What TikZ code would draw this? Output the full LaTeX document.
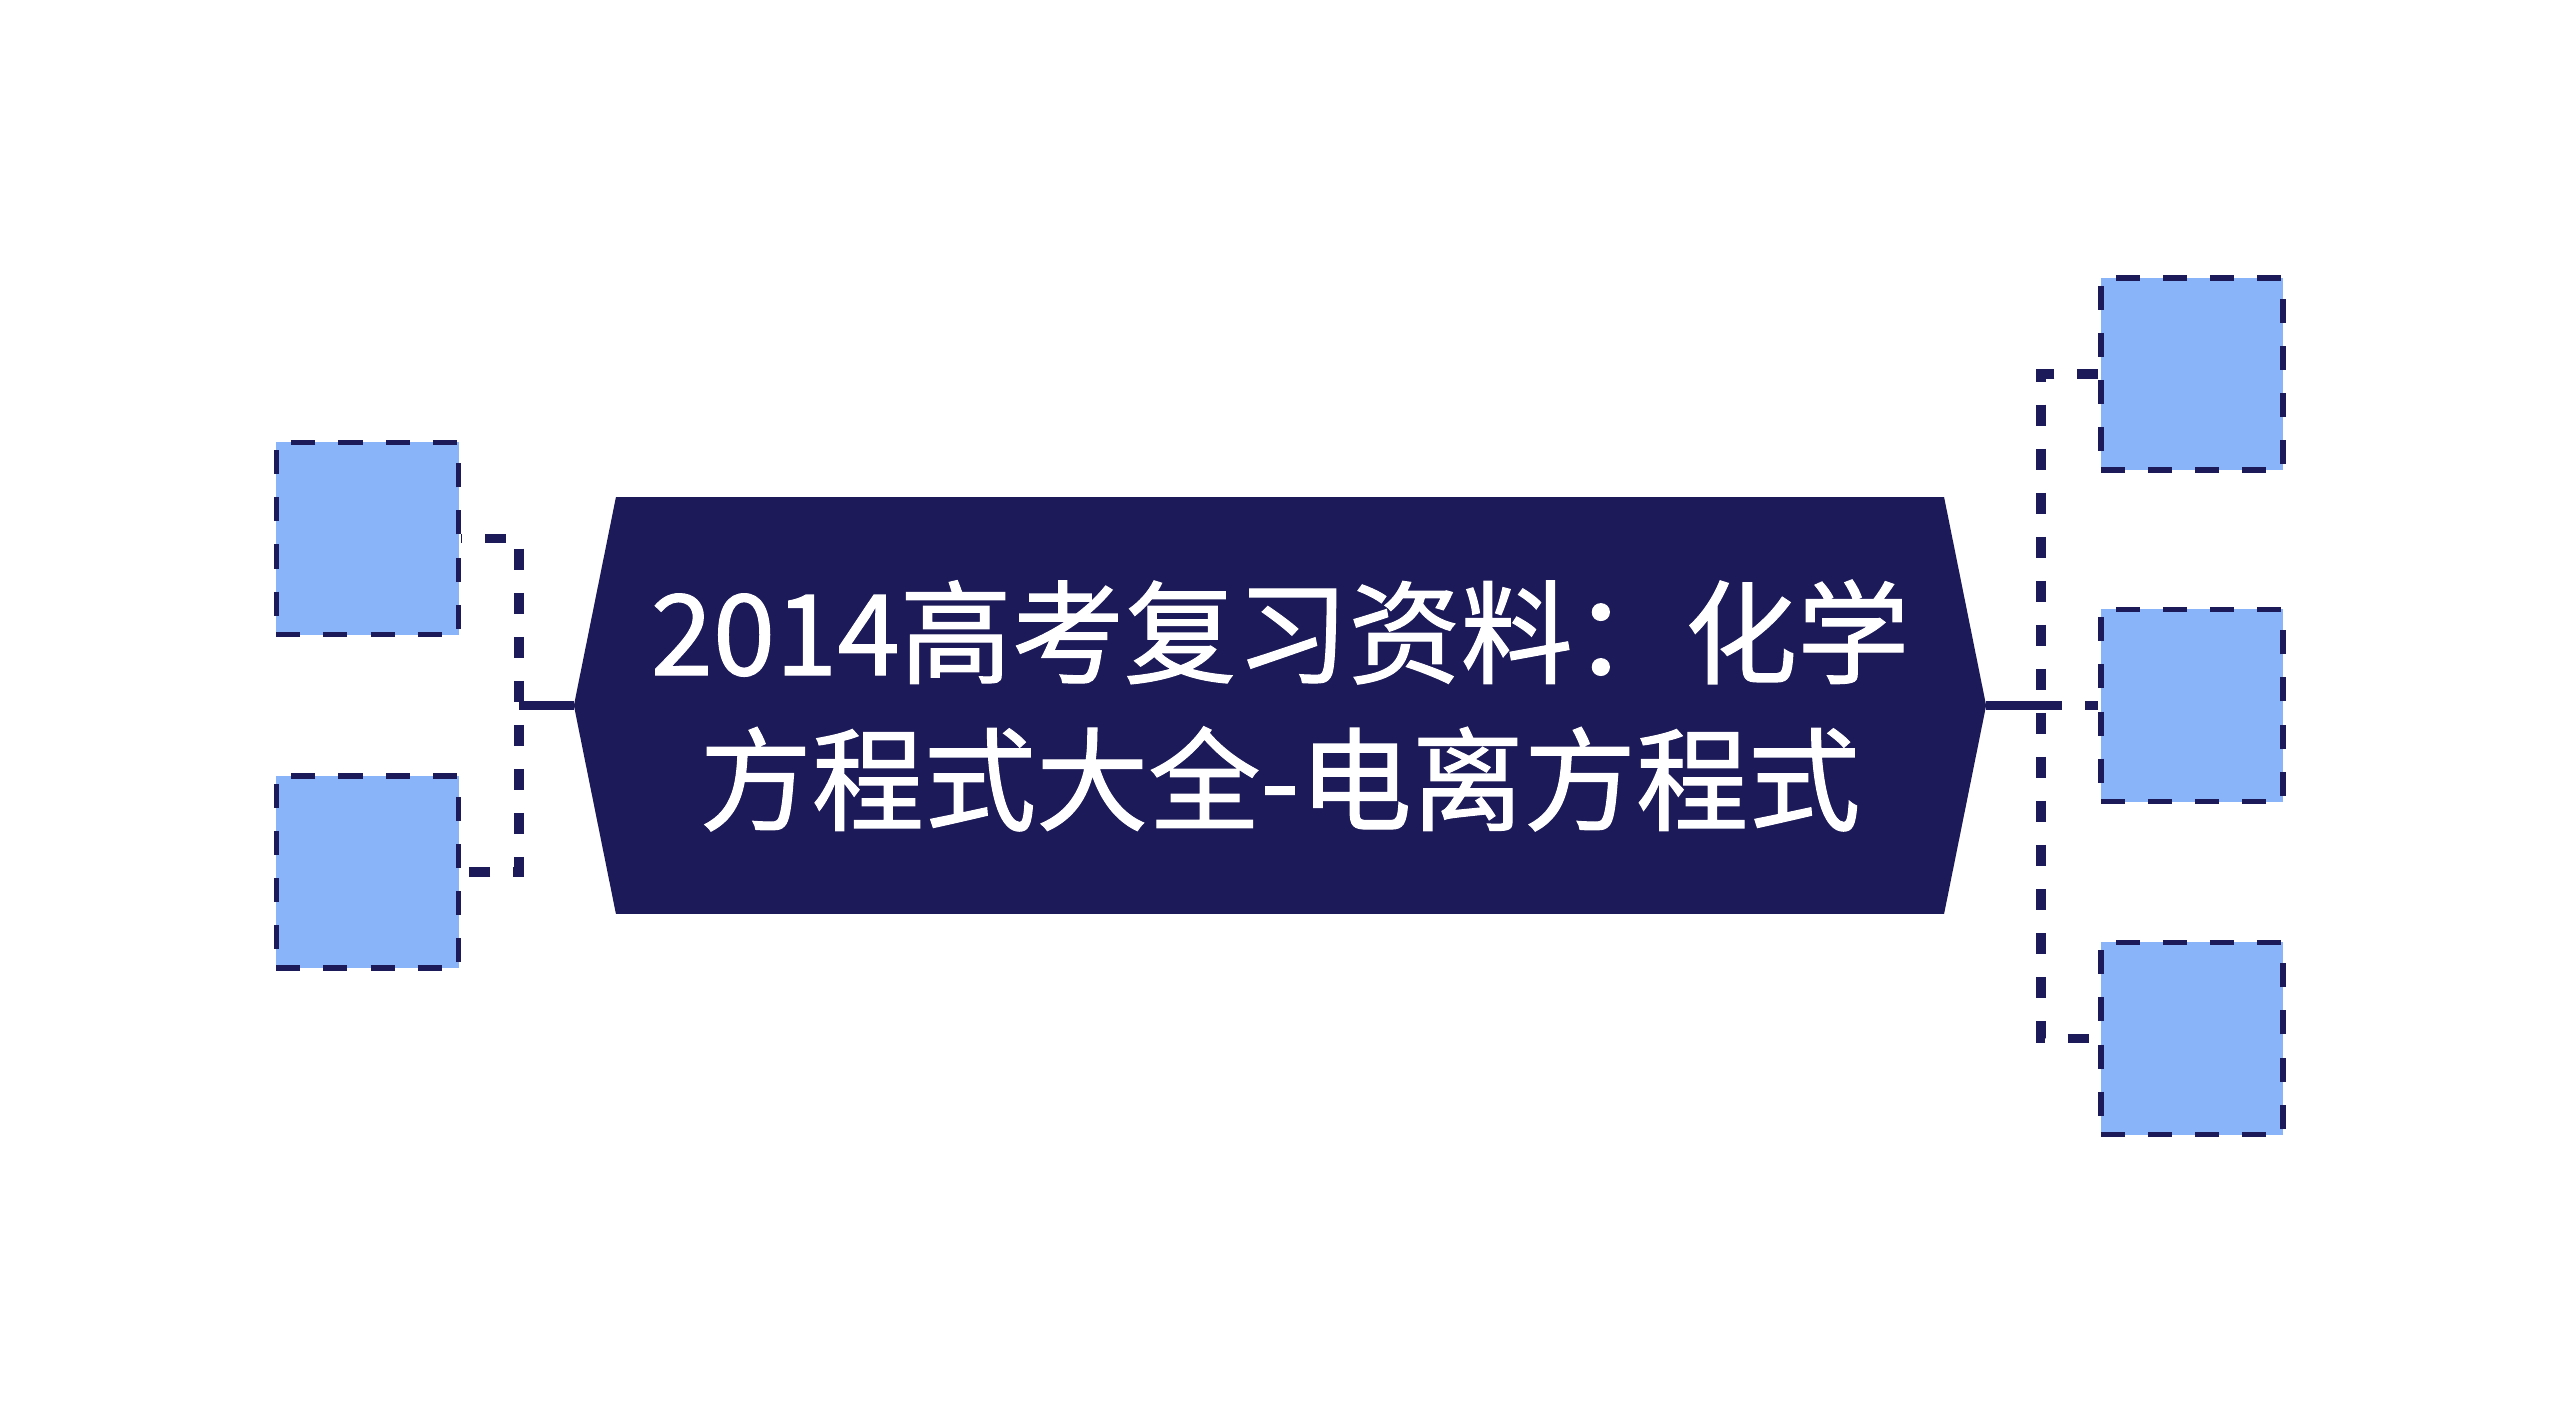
\documentclass[tikz,border=0pt]{standalone}
\usepackage{fontspec}
\newfontfamily\cjk{Noto Sans CJK SC}[FakeBold=1]
\usetikzlibrary{backgrounds}
\definecolor{navy}{RGB}{28,26,88}
\definecolor{leafblue}{RGB}{138,180,250}
\tikzset{
titlenode/.style={rectangle, inner sep=0pt, minimum width=13.26cm, minimum height=4.15cm, align=center, text=white, font=\cjk\fontsize{31.9}{41.8}\selectfont},
leafnode/.style={rectangle, draw=navy, fill=leafblue, line width=1.5pt, dash pattern=on 0.24cm off 0.23cm, inner sep=0pt, minimum width=1.82cm, minimum height=1.92cm},
linkline/.style={draw=navy, line width=2.4pt},
branchline/.style={draw=navy, line width=2.6pt, dash pattern=on 0.21cm off 0.23cm},
}
\begin{document}
\begin{tikzpicture}[x=0.01cm, y=-0.01cm]
    \useasboundingbox (0,0) rectangle (2560,1413);
    \node[titlenode] (title) at (1280,705.5) {2014高考复习资料：化学\\方程式大全-电离方程式};
    \coordinate (ltip) at ([xshift=-0.42cm]title.west);
    \coordinate (rtip) at ([xshift=0.42cm]title.east);
    \begin{scope}[on background layer]
    \fill[navy] (title.north west) -- (title.north east) -- (rtip) -- (title.south east) -- (title.south west) -- (ltip) -- cycle;
    \end{scope}
    % left side
    \node[leafnode] (l1) at (367.5,538.5) {};
    \node[leafnode] (l2) at (367.5,872) {};
    \coordinate (lbar) at (519,705.5);
    \draw[linkline] (ltip) -- (lbar);
    \draw[branchline, dash phase=0.2cm] (l1.east) -| (lbar) |- (l2.east);
    % right side
    \node[leafnode] (r1) at (2192,374) {};
    \node[leafnode] (r2) at (2192,705.5) {};
    \node[leafnode] (r3) at (2192,1038.5) {};
    \coordinate (rbar) at (2041,705.5);
    \draw[linkline] (rtip) -- (rbar);
    \draw[branchline] (r1.west) -| (rbar) |- (r3.west);
    \draw[branchline] (rbar) -- (r2.west);
\end{tikzpicture}
\end{document}
